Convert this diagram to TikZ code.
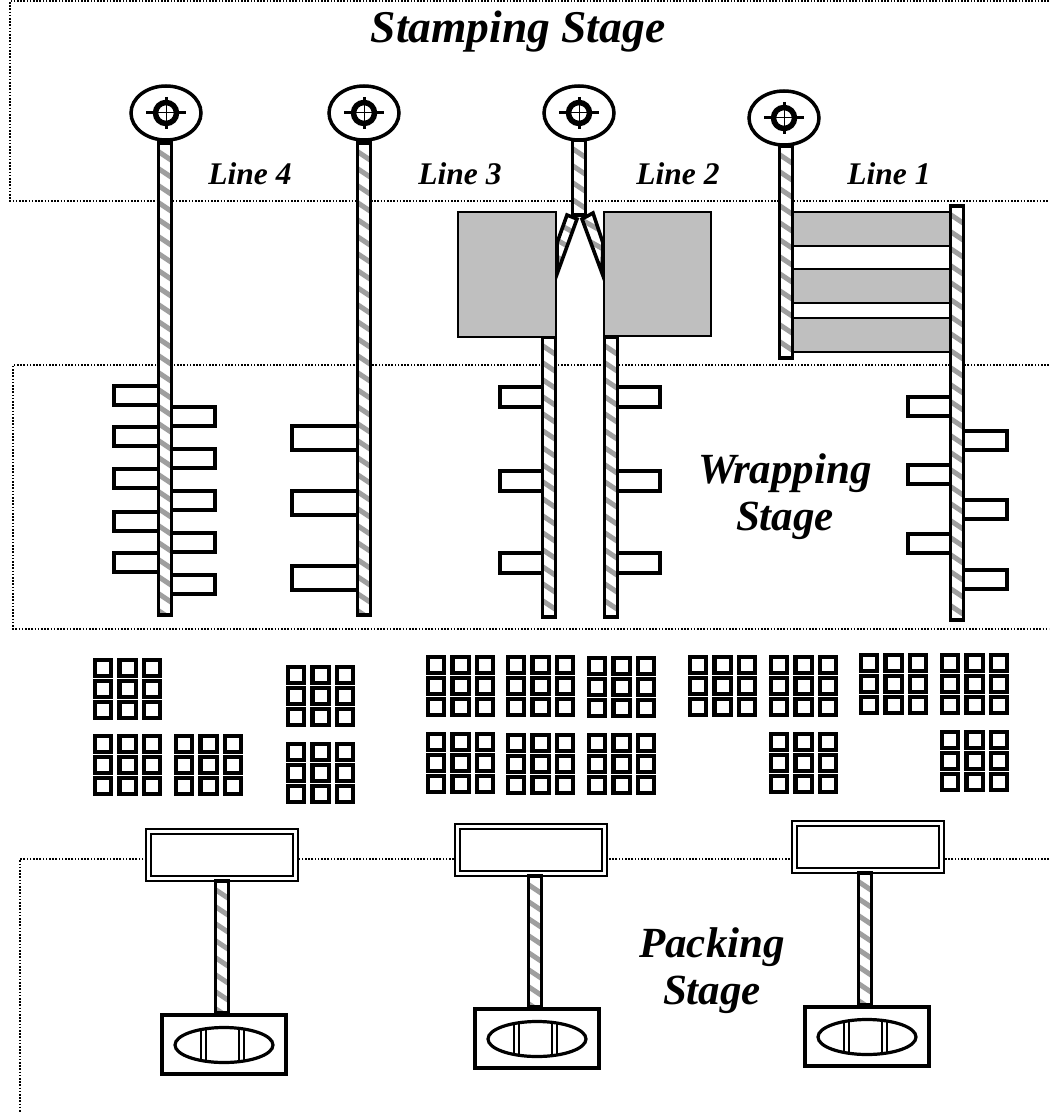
\documentclass[tikz,border=0pt]{standalone}
\usepackage{fontspec}
\setmainfont{Liberation Serif}
\tikzset{
  stageline/.style={line width=1.5pt, dash pattern=on 1.6pt off 1.6pt},
  beltedge/.style={line width=3.6pt, line join=miter},
  beltstripe/.style={line width=5pt, gray!75},
  graybox/.style={draw, line width=1.6pt, fill=gray!50},
  slot/.style={draw, line width=3.8pt, fill=white},
  cell/.style={draw, line width=4.2pt, fill=white},
  stagelabel/.style={font=\fontsize{43}{47}\selectfont\bfseries\itshape, align=center},
  linelabel/.style={font=\fontsize{31.5}{34}\selectfont\bfseries\itshape}
}
\newcommand{\fbelt}[3]{
  \fill[white] (#1+1.5,#2) rectangle (#1+14.5,#3);
  \begin{scope}
    \clip (#1+1.5,#2) rectangle (#1+14.5,#3);
    \foreach \s in {-10,7,...,480} \draw[beltstripe] (#1-1,#2+\s) -- ++(18,12);
  \end{scope}
  \draw[beltedge] (#1+1.5,#2) rectangle (#1+14.5,#3);
}
\newcommand{\fforkleg}[4]{
  \begin{scope}
    \clip (#1) -- (#2) -- (#3) -- (#4) -- cycle;
    \foreach \s in {205,222,239,256} \draw[beltstripe] (555,\s) -- ++(50,28);
  \end{scope}
  \draw[beltedge] (#1) -- (#2) -- (#3) -- (#4) -- cycle;
}
\newcommand{\fscrew}[2]{
  \draw[line width=3.5pt, fill=white] (#1,#2) ellipse (35 and 27);
  \draw[line width=5.5pt] (#1,#2) circle (10.5);
  \draw[line width=3pt] (#1-20,#2) -- (#1-10,#2) (#1+10,#2) -- (#1+20,#2)
    (#1,#2-16) -- (#1,#2-10) (#1,#2+10) -- (#1,#2+16);
  \draw[line width=1pt] (#1-10,#2) -- (#1+10,#2) (#1,#2-10) -- (#1,#2+10);
}
\newcommand{\fgrid}[2]{
  \foreach \i in {0,1,2} \foreach \j in {0,1,2}
    \draw[cell] (#1+2.1+24.4*\i,#2+2.1+21*\j) rectangle ++(16.2,15.6);
}
\newcommand{\fpack}[4]{
  \draw[line width=2.4pt, fill=white] (#1+1,#2+1) rectangle ++(152,52);
  \draw[line width=2.4pt] (#1+6,#2+6) rectangle ++(142,42);
  \fbelt{#4+54}{#2+53}{#3}
  \draw[line width=3.6pt, fill=white] (#4+1.8,#3+1.8) rectangle ++(124,59);
  \draw[line width=3.2pt] (#4+64,#3+32) ellipse (49 and 17.5);
  \draw[line width=1.8pt] (#4+41,#3+17) -- (#4+41,#3+47) (#4+46,#3+16) -- (#4+46,#3+48)
    (#4+79,#3+16) -- (#4+79,#3+48) (#4+84,#3+17) -- (#4+84,#3+47);
}
\begin{document}
\begin{tikzpicture}[x=1pt,y=-1pt]
\useasboundingbox (0,0) rectangle (1049,1115);
\draw[stageline] (1049,1) -- (10,1) -- (10,201) -- (1049,201);
\draw[stageline] (1049,365) -- (13,365) -- (13,629) -- (1049,629);
\draw[stageline] (1049,859) -- (20,859) -- (20,1112);
\node[stagelabel, font=\fontsize{45.5}{48}\selectfont\bfseries\itshape] (stamping) at (518,32) {Stamping Stage};
\node[linelabel] (line4) at (250,174) {Line 4};
\node[linelabel] (line3) at (460,174) {Line 3};
\node[linelabel] (line2) at (678,174) {Line 2};
\node[linelabel] (line1) at (889,174) {Line 1};
\node[stagelabel] (wrapping) at (785,497) {Wrapping\\Stage};
\node[stagelabel] (packing) at (712,971) {Packing\\Stage};
\foreach \y in {386,427,469,512,553} \draw[slot] (114,\y) rectangle ++(46,19);
\foreach \y in {407,449,491,533,575} \draw[slot] (170,\y) rectangle ++(45,19);
\foreach \y in {426,491,566} \draw[slot] (292,\y) rectangle ++(67,24);
\foreach \y in {387,471,553} {
  \draw[slot] (500,\y) rectangle ++(44,20);
  \draw[slot] (616,\y) rectangle ++(44,20);
}
\foreach \y in {397,465,534} \draw[slot] (908,\y) rectangle ++(44,19);
\foreach \y in {431,500,570} \draw[slot] (962,\y) rectangle ++(45,19);
\fbelt{157}{143}{615}
\fbelt{356}{143}{615}
\fbelt{571}{140}{215}
\fbelt{541}{337}{617}
\fbelt{603}{337}{617}
\draw[graybox] (458,212) rectangle (556,337);
\draw[graybox] (604,212) rectangle (711,336);
\fforkleg{567,215}{577,219}{557,274}{557,243}
\fforkleg{582,219}{593,213}{603,243}{602,273}
\draw[graybox] (793,212) rectangle (950,246);
\draw[graybox] (793,269) rectangle (950,303);
\draw[graybox] (793,318) rectangle (950,352);
\fbelt{778}{146}{358}
\fbelt{949}{206}{620}
\fscrew{166}{113}
\fscrew{364}{113}
\fscrew{579}{113}
\fscrew{784}{118}
\fgrid{93}{658}
\fgrid{93}{734}
\fgrid{174}{734}
\fgrid{286}{665}
\fgrid{286}{742}
\fgrid{426}{655}
\fgrid{506}{655}
\fgrid{587}{656}
\fgrid{426}{732}
\fgrid{506}{733}
\fgrid{587}{733}
\fgrid{688}{655}
\fgrid{769}{655}
\fgrid{859}{653}
\fgrid{940}{653}
\fgrid{769}{732}
\fgrid{940}{730}
\fpack{145}{828}{1013}{160}
\fpack{454}{823}{1007}{473}
\fpack{791}{820}{1005}{803}
\end{tikzpicture}
\end{document}
